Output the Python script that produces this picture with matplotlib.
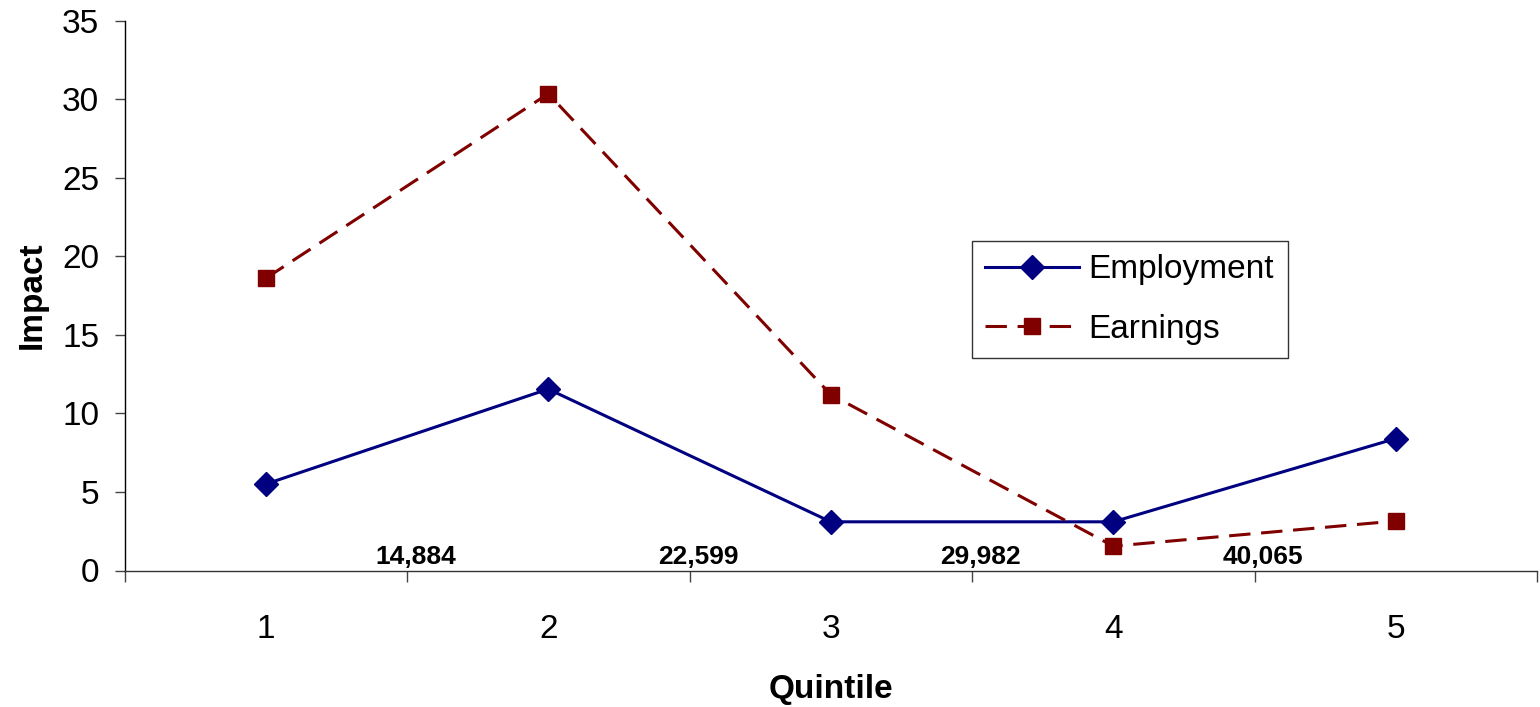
import matplotlib
matplotlib.use("Agg")
import matplotlib.pyplot as plt
import numpy as np

plt.rcParams['font.family'] = ['Liberation Sans', 'DejaVu Sans']

quintiles = ["1", "2", "3", "4", "5"]
employment = [5.5, 11.55, 3.1, 3.1, 8.4]
earnings = [18.6, 30.35, 11.2, 1.55, 3.15]
boundary_labels = ["14,884", "22,599", "29,982", "40,065"]

fig = plt.figure(figsize=(15.4, 7.07), dpi=100)
ax = fig.add_axes([124.5/1540, 1-570.5/707, (1537-124.5)/1540, (570.5-20.7)/707])

x = np.arange(1, len(quintiles)+1)
ax.plot(x, employment, color='#000080', lw=2.2, marker='D', ms=12,
        markerfacecolor='#000080', markeredgecolor='#000080', label='Employment', clip_on=False)
ax.plot(x, earnings, color='#800000', lw=2.2, ls=(0, (7, 3.5)), marker='s', ms=11,
        markerfacecolor='#800000', markeredgecolor='#800000', label='Earnings', clip_on=False)

ax.set_xlim(0.5, 5.5)
ax.set_ylim(0, 35)
ax.set_yticks(np.arange(0, 36, 5))
ax.set_xticks(x)
ax.set_xticklabels(quintiles)
ax.set_xticks(np.arange(0.5, 5.6, 1), minor=True)
ax.tick_params(axis='x', which='major', length=0, pad=31, labelsize=24)
ax.tick_params(axis='x', which='minor', length=8, width=1.0, color='#444444')
ax.tick_params(axis='y', which='major', length=7.2, width=1.0, pad=11, labelsize=24, color='#444444')

for s in ['top', 'right']:
    ax.spines[s].set_visible(False)
for s in ['left', 'bottom']:
    ax.spines[s].set_linewidth(1.0)
ax.spines['bottom'].set_color('#333333')

for i, lab in enumerate(boundary_labels):
    ax.text(1.53 + i, 0.12, lab, ha='center', va='bottom', fontsize=19, fontweight='bold')

ax.set_ylabel('Impact', fontsize=24, fontweight='bold', labelpad=10)
ax.set_xlabel('Quintile', fontsize=24, fontweight='bold', labelpad=21)

leg = ax.legend(loc='upper left', bbox_to_anchor=((972-124.5)/(1537-124.5), 1-(241-20.7)/(570.5-20.7)),
                fontsize=24, frameon=True, fancybox=False, borderpad=0.4, handlelength=2.8,
                handletextpad=0.3, labelspacing=0.85, borderaxespad=0)
leg.get_frame().set_edgecolor('black')
leg.get_frame().set_linewidth(1.0)

fig.savefig('out.png', dpi=100)
